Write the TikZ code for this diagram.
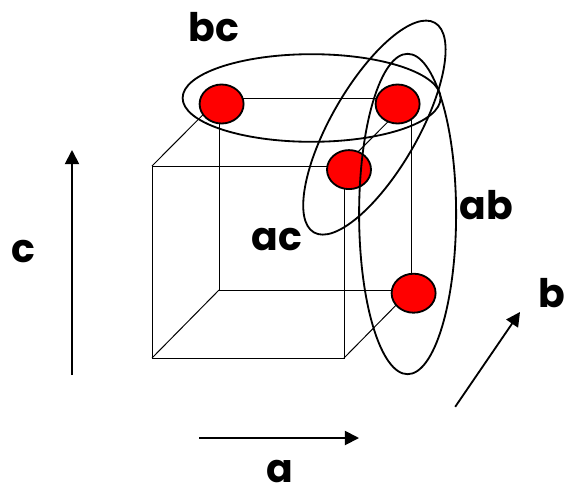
\documentclass[tikz,border=0pt]{standalone}
\usepackage{fontspec}
\setmainfont{Poppins}[BoldFont={Poppins Bold}]
\usetikzlibrary{arrows.meta,shapes.geometric}
\tikzset{
  edge/.style={draw=black, line width=0.7pt},
  axis/.style={-{Triangle[length=10pt,width=10pt]}, draw=black, line width=1.3pt},
  site/.style={ellipse, fill=red, draw=black, line width=1.3pt, inner sep=0pt, minimum width=1.1cm, minimum height=0.975cm},
  pairing/.style={ellipse, draw=black, line width=1.3pt, inner sep=0pt},
  tag/.style={font=\fontsize{28}{28}\selectfont\bfseries, text=black, inner sep=0pt},
}
\begin{document}
\begin{tikzpicture}[x=1cm,y=1cm]
  \useasboundingbox (0,0) rectangle (14.125,12.4);

  \coordinate (ftl) at (3.80,8.25);
  \coordinate (ftr) at (8.60,8.25);
  \coordinate (fbl) at (3.80,3.45);
  \coordinate (fbr) at (8.60,3.45);
  \coordinate (btl) at (5.475,9.935);
  \coordinate (btr) at (10.275,9.935);
  \coordinate (bbl) at (5.475,5.15);
  \coordinate (bbr) at (10.275,5.15);

  \draw[edge] (ftl) -- (ftr) -- (fbr) -- (fbl) -- cycle;
  \draw[edge] (btl) -- (btr) -- (bbr) -- (bbl) -- cycle;
  \draw[edge] (ftl) -- (btl);
  \draw[edge] (ftr) -- (btr);
  \draw[edge] (fbl) -- (bbl);
  \draw[edge] (fbr) -- (bbr);

  \node[site] (site0) at (5.54,9.80) {};
  \node[site] (site1) at (9.94,9.80) {};
  \node[site] (site2) at (8.725,8.16) {};
  \node[site] (site3) at (10.34,5.07) {};

  \node[pairing, minimum width=6.45cm, minimum height=2.19cm] (pairbc) at (7.79,9.95) {};
  \node[pairing, minimum width=2.425cm, minimum height=8.01cm] (pairab) at (10.19,7.05) {};
  \node[pairing, minimum width=6.05cm, minimum height=2.165cm, rotate=60] (pairac) at (9.36,9.21) {};

  \coordinate (cstart) at (1.80,3.025);
  \coordinate (cend) at (1.80,8.65);
  \coordinate (astart) at (4.975,1.45);
  \coordinate (aend) at (8.975,1.45);
  \coordinate (bstart) at (11.38,2.23);
  \coordinate (bend) at (13.00,4.60);

  \draw[axis] (cstart) -- (cend);
  \draw[axis] (astart) -- (aend);
  \draw[axis] (bstart) -- (bend);

  \node[tag] (bclabel) at (5.35,11.72) {bc};
  \node[tag] (aclabel) at (6.92,6.40) {ac};
  \node[tag] (ablabel) at (12.15,7.28) {ab};
  \node[tag] (clabel) at (0.58,6.10) {c};
  \node[tag] (alabel) at (7.00,0.62) {a};
  \node[tag] (blabel) at (13.80,5.08) {b};
\end{tikzpicture}
\end{document}
